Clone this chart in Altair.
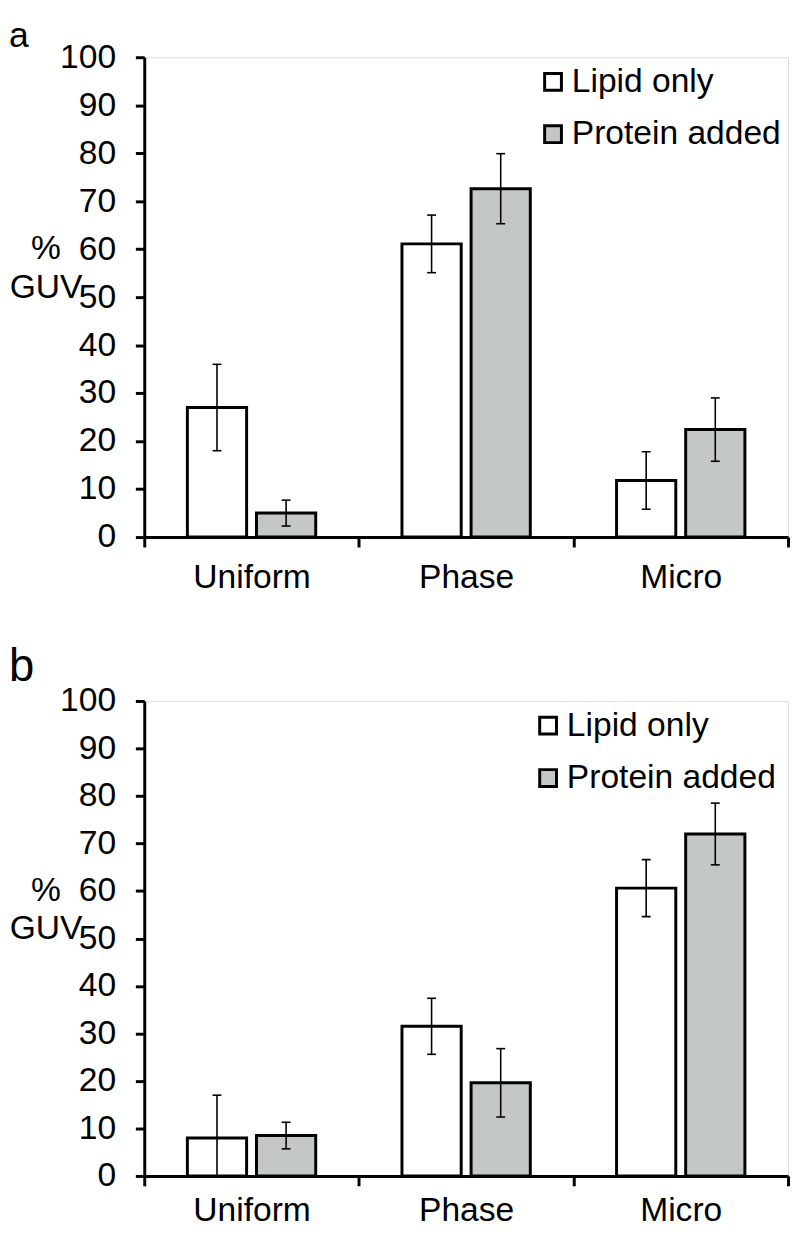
import altair as alt
import pandas as pd

categories = ["Uniform", "Phase", "Micro"]
series = ["Lipid only", "Protein added"]

# Panel a
a_lipid = [27.0, 61.1, 11.8]
a_lipid_err = [9.0, 6.0, 6.0]
a_protein = [5.0, 72.6, 22.4]
a_protein_err = [2.7, 7.3, 6.6]

# Panel b
b_lipid = [8.0, 31.5, 60.6]
b_lipid_err = [9.0, 5.9, 6.0]
b_protein = [8.5, 19.6, 72.0]
b_protein_err = [2.8, 7.2, 6.5]

y_ticks = [0, 10, 20, 30, 40, 50, 60, 70, 80, 90, 100]
colors = ["#ffffff", "#c3c8c6"]
FONT = "Liberation Sans"
FS = 34


def make_df(lip, lip_e, pro, pro_e):
    rows = []
    for c, v, e in zip(categories, lip, lip_e):
        rows.append({"cat": c, "series": series[0], "value": v,
                     "lo": max(v - e, 0), "hi": v + e})
    for c, v, e in zip(categories, pro, pro_e):
        rows.append({"cat": c, "series": series[1], "value": v,
                     "lo": max(v - e, 0), "hi": v + e})
    return pd.DataFrame(rows)


def panel(lip, lip_e, pro, pro_e, letter, letter_size, letter_y, height,
          legend_x, xlab_pad, title_y):
    df = make_df(lip, lip_e, pro, pro_e)
    base = alt.Chart(df)
    x = alt.X("cat:N", sort=categories,
              scale=alt.Scale(paddingInner=0, paddingOuter=0),
              axis=alt.Axis(title=None, labelAngle=0, labelFontSize=FS, labelFont=FONT,
                            labelColor="black", tickBand="extent", tickSize=10,
                            tickWidth=3, tickColor="black", domainWidth=3,
                            domainColor="black", labelPadding=xlab_pad, grid=False))
    xo = alt.XOffset("series:N", sort=series,
                     scale=alt.Scale(paddingInner=0.143, paddingOuter=0.624))
    y = alt.Y("value:Q", scale=alt.Scale(domain=[0, 100], nice=False),
              axis=alt.Axis(values=y_ticks, labelFontSize=FS, labelFont=FONT,
                            labelColor="black", tickSize=9, tickWidth=3,
                            tickColor="black", domainWidth=3, domainColor="black",
                            labelPadding=20, grid=False,
                            title=["%", "GUV"], titleAngle=0, titleFontSize=FS,
                            titleFont=FONT, titleFontWeight="normal",
                            titleColor="black", titleAlign="center",
                            titleBaseline="middle", titleLineHeight=39,
                            titleX=-100, titleY=title_y))
    bars = base.mark_bar(stroke="black", strokeWidth=3).encode(
        x=x, xOffset=xo, y=y,
        fill=alt.Fill("series:N", sort=series,
                      scale=alt.Scale(domain=series, range=colors),
                      legend=alt.Legend(title=None, orient="none",
                                        legendX=legend_x, legendY=8,
                                        symbolType="square", symbolSize=289,
                                        symbolStrokeColor="black",
                                        symbolStrokeWidth=3,
                                        symbolOpacity=1,
                                        labelFontSize=FS, labelFont=FONT,
                                        labelColor="black", labelOffset=2,
                                        labelLimit=400,
                                        rowPadding=19, padding=0)))
    rules = base.mark_rule(color="black", strokeWidth=1.6).encode(
        x=x, xOffset=xo, y="lo:Q", y2="hi:Q")
    cap_hi = base.mark_tick(color="black", thickness=1.6, size=9, opacity=1).encode(
        x=x, xOffset=xo, y="hi:Q")
    cap_lo = base.mark_tick(color="black", thickness=1.6, size=9, opacity=1).encode(
        x=x, xOffset=xo, y="lo:Q")
    lab = alt.Chart(pd.DataFrame({"t": [letter]})).mark_text(
        font=FONT, fontSize=letter_size, align="left", baseline="alphabetic",
        color="black").encode(text="t:N", x=alt.value(-137), y=alt.value(letter_y))
    return alt.layer(bars, rules, cap_hi, cap_lo, lab).properties(
        width=652, height=height)


pa = panel(a_lipid, a_lipid_err, a_protein, a_protein_err, "a", 36, -10, 486, 397, 14, 194)
pb = panel(b_lipid, b_lipid_err, b_protein, b_protein_err, "b", 46, -20, 481, 392, 8, 192)

chart = alt.vconcat(pa, pb, spacing=49).resolve_scale(fill="independent").configure_view(
    stroke=None).configure(font=FONT, padding={"left": 0, "top": 2, "right": 0, "bottom": 0})

chart.save("out.html", embed_options={"renderer": "svg", "actions": False})
